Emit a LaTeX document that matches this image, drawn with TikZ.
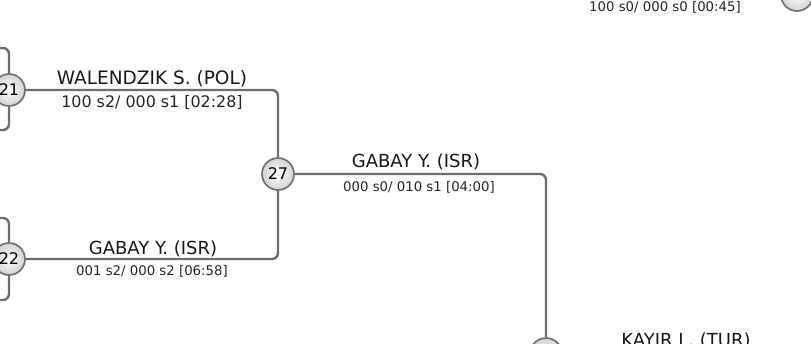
\documentclass[tikz,border=0pt]{standalone}
\usepackage{fontspec}
\setmainfont{DejaVu Sans}
\definecolor{linkgray}{HTML}{6E6E6E}
\definecolor{ringgray}{HTML}{737373}
\tikzset{
  match/.style={circle, draw=ringgray, line width=1.7pt, inner color=white,
    outer color=gray!35, minimum size=32pt, inner sep=0pt,
    font=\fontsize{16}{16}\selectfont},
  link/.style={draw=linkgray, line width=2.4pt, rounded corners=6pt},
  player/.style={anchor=base, text=black!90, font=\fontsize{18}{18}\selectfont},
  score/.style={anchor=base, text=black!85, font=\fontsize{13.3}{14}\selectfont},
}
\begin{document}
\begin{tikzpicture}[x=1pt, y=-1pt]
  \useasboundingbox (0,0) rectangle (811,343);

  % earlier rounds, off to the left
  \coordinate (in1) at (-40,48);  \coordinate (in2) at (-40,130);
  \coordinate (in3) at (-40,218); \coordinate (in4) at (-40,300);

  % matches
  \node[match] (m21) at (9,90) {21};
  \node[match] (m22) at (9,259) {22};
  \node[match] (m27) at (278,174) {27};
  \node[match] (mlow) at (546,354) {};
  \node[match] (mtop) at (797,-5) {};

  % links
  \draw[link] (in1) -| (m21); \draw[link] (in2) -| (m21);
  \draw[link] (in3) -| (m22); \draw[link] (in4) -| (m22);
  \draw[link] (m21) -| (m27);
  \draw[link] (m22) -| (m27);
  \draw[link] (m27) -| (mlow);

  % winners and scores
  \node[player, font=\fontsize{18.5}{19}\selectfont] (w21) at (152,84) {WALENDZIK S. (POL)};
  \node[score, font=\fontsize{15.9}{16}\selectfont] (s21) at (152,107) {100 s2/ 000 s1 [02:28]};
  \node[player] (w22) at (153,254) {GABAY Y. (ISR)};
  \node[score] (s22) at (152,275) {001 s2/ 000 s2 [06:58]};
  \node[player] (w27) at (416,167) {GABAY Y. (ISR)};
  \node[score] (s27) at (419,191) {000 s0/ 010 s1 [04:00]};
  \node[score] (stop) at (665,11) {100 s0/ 000 s0 [00:45]};
  \node[player] (wlow) at (686,346) {KAYIR L. (TUR)};
\end{tikzpicture}
\end{document}
